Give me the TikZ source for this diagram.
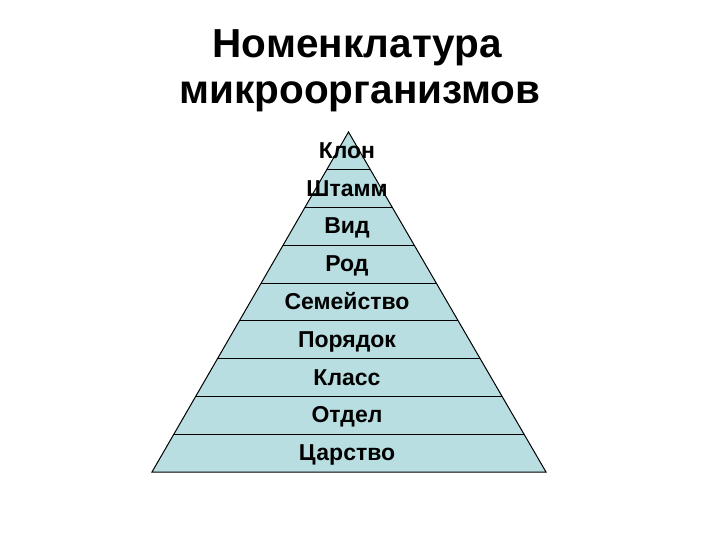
\documentclass[tikz,border=0pt]{standalone}
\usepackage{fontspec}
\setmainfont{Liberation Sans}
\usetikzlibrary{calc}
\definecolor{pyr}{RGB}{184,222,225}
\begin{document}
\begin{tikzpicture}[x=1pt,y=-1pt,
  band/.style={draw=black,line width=1pt},
  lbl/.style={font=\fontsize{23}{27}\selectfont\bfseries,inner sep=0pt,anchor=base},
  ttl/.style={font=\fontsize{40.5}{46}\selectfont\bfseries,inner sep=0pt,anchor=base}]
\useasboundingbox (0,0) rectangle (720,540);
\coordinate (A) at (348.5,132);
\coordinate (L) at (152,472);
\coordinate (R) at (546,472);
\fill[pyr] (A) -- (L) -- (R) -- cycle;
\foreach \k in {1,...,8}{
  \draw[band] ($(A)!{\k/9}!(L)$) -- ($(A)!{\k/9}!(R)$);
}
\draw[band,line join=miter] (L) -- (A) -- (R) -- cycle;
\node[ttl] (title1) at (357.5,58) {Номенклатура};
\node[ttl] (title2) at (360,104) {микроорганизмов};
\foreach \t [count=\i] in {Клон,Штамм,Вид,Род,Семейство,Порядок,Класс,Отдел,Царство}{
  \node[lbl] (l\i) at (347,{132+37.78*(\i-0.5)+7.5}) {\t};
}
\end{tikzpicture}
\end{document}
